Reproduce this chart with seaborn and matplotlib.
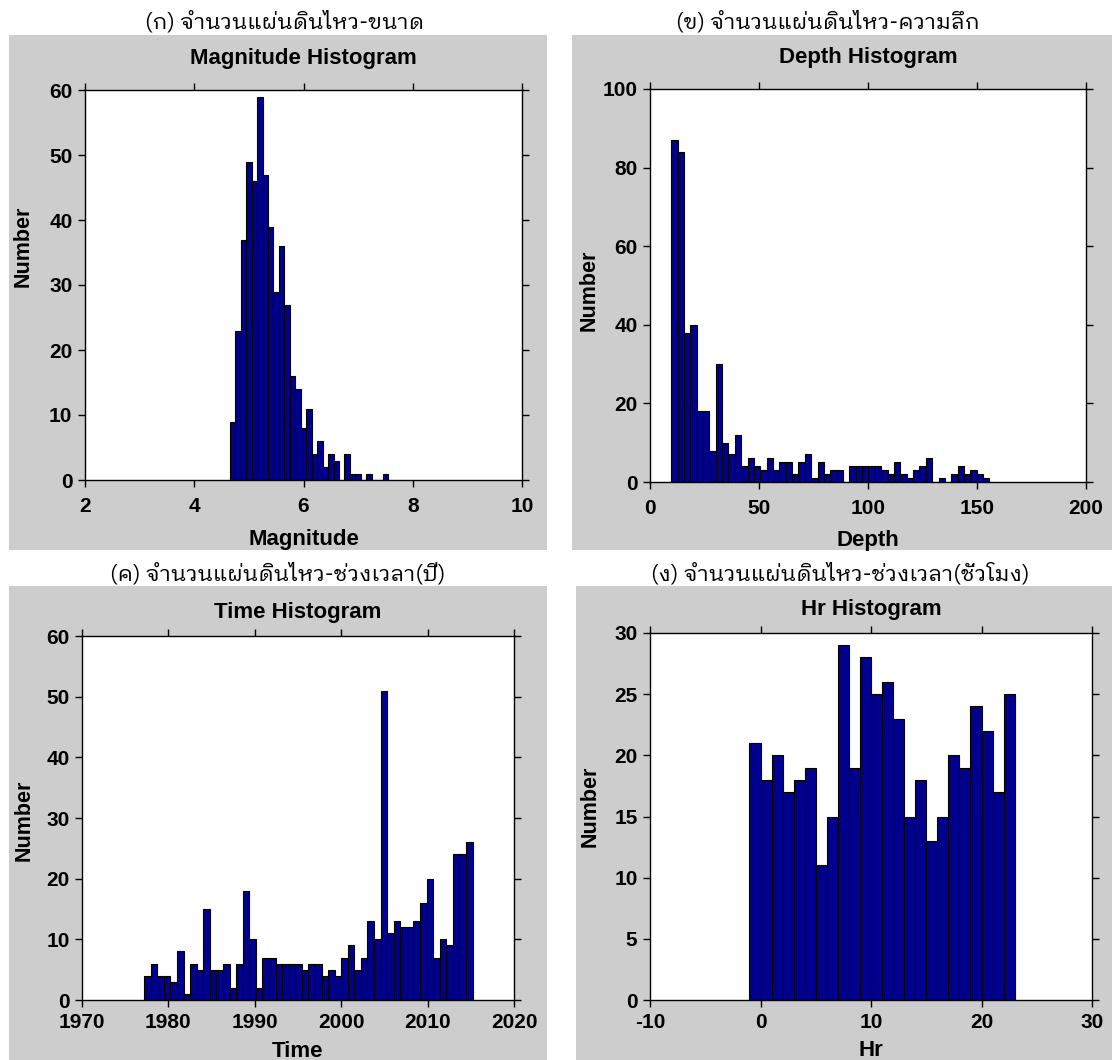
import numpy as np
import pandas as pd
import matplotlib
matplotlib.use("Agg")
import matplotlib.pyplot as plt
import seaborn as sns
from matplotlib import font_manager as fm
from matplotlib.patches import Rectangle
import logging
logging.getLogger("fontTools").setLevel(logging.ERROR)

# ---------------- data (bin counts) ----------------
mag_bin_start = 4.65
mag_bin_width = 0.1
mag_counts = [9, 23, 37, 49, 46, 59, 47, 39, 29, 36, 27, 16, 14, 8, 11,
              4, 6, 2, 4, 3, 0, 4, 1, 1, 0, 1, 0, 0, 1]

depth_bin_start = 9.7
depth_bin_width = 2.92
depth_counts = [87, 84, 38, 40, 18, 18, 8, 30, 10, 7, 12, 4, 6, 4, 3,
                6, 3, 5, 5, 2, 5, 7, 1, 5, 2, 3, 3, 0, 4, 4,
                4, 4, 4, 3, 2, 5, 2, 1, 3, 4, 6, 0, 1, 0, 2,
                4, 2, 3, 2, 1]

time_bin_start = 1977.2
time_bin_width = 0.76
time_counts = [4, 6, 4, 4, 3, 8, 1, 6, 5, 15, 5, 5, 6, 2, 6,
               18, 10, 2, 7, 7, 6, 6, 6, 6, 5, 6, 6, 4, 5, 4,
               7, 9, 5, 7, 13, 10, 51, 11, 13, 12, 12, 13, 16, 20, 7,
               10, 9, 24, 24, 26]

hr_bin_start = -1
hr_bin_width = 1
hr_counts = [21, 18, 20, 17, 18, 19, 11, 15, 29, 19, 28, 25, 26, 23, 15,
             18, 13, 15, 20, 19, 24, 22, 17, 25]

thai_titles = ["(ก) จำนวนแผ่นดินไหว-ขนาด",
               "(ข) จำนวนแผ่นดินไหว-ความลึก",
               "(ค) จำนวนแผ่นดินไหว-ช่วงเวลา(ปี)",
               "(ง) จำนวนแผ่นดินไหว-ช่วงเวลา(ชั่วโมง)"]
panel_titles = ["Magnitude Histogram", "Depth Histogram",
                "Time Histogram", "Hr Histogram"]
x_labels = ["Magnitude", "Depth", "Time", "Hr"]
y_label = "Number"
x_limits = [(2, 10), (0, 200), (1970, 2020), (-10, 30)]
x_tick_values = [[2, 4, 6, 8, 10], [0, 50, 100, 150, 200],
                 [1970, 1980, 1990, 2000, 2010, 2020], [-10, 0, 10, 20, 30]]
y_limits = [(0, 60), (0, 100), (0, 60), (0, 30)]
y_tick_values = [[0, 10, 20, 30, 40, 50, 60], [0, 20, 40, 60, 80, 100],
                 [0, 10, 20, 30, 40, 50, 60], [0, 5, 10, 15, 20, 25, 30]]

# ---------------- style ----------------
sns.set_style("ticks")
plt.rcParams["font.family"] = ["Liberation Sans", "DejaVu Sans"]
plt.rcParams["font.weight"] = "bold"


def find_thai_font():
    try:
        from fontTools.ttLib import TTFont
    except Exception:
        return None
    need = "จำนวนแผ่นดินไหวขชั่ลึกปีโมง"
    best = None
    seen = set()
    for f in fm.fontManager.ttflist:
        path = f.fname
        if path in seen:
            continue
        seen.add(path)
        try:
            tt = TTFont(path, fontNumber=0, lazy=True)
            cmap = tt.getBestCmap() or {}
        except Exception:
            continue
        if all(ord(c) in cmap for c in need):
            score = 0
            name = (f.name or "").lower()
            if "thai" in name:
                score += 3
            if "looped" in name:
                score += 4
            if " ui" in name:
                score -= 1
            w = f.weight
            if w in ("normal", "regular", 400, "book"):
                score += 2
            if "italic" in (f.style or "").lower():
                score -= 5
            if best is None or score > best[0]:
                best = (score, path)
    return best[1] if best else None


thai_path = find_thai_font()
if thai_path:
    thai_fp = fm.FontProperties(fname=thai_path, size=16)
else:
    thai_fp = fm.FontProperties(family=["DejaVu Sans"], size=16)

W, H = 1116, 1060
fig = plt.figure(figsize=(W / 100, H / 100), dpi=100, facecolor="white")

BAR = "#00008C"
GRAY = "#CDCDCD"

# gray panel backgrounds (pixels: left, top, right, bottom)
panels = [(9, 35, 547, 550), (572, 35, 1112, 550),
          (9, 586, 547, 1060), (576, 586, 1112, 1060)]
for (l, t, r, b) in panels:
    fig.add_artist(Rectangle((l / W, 1 - b / H), (r - l) / W, (b - t) / H,
                             transform=fig.transFigure, facecolor=GRAY,
                             edgecolor="none", zorder=-10))

# axes boxes (pixels: left, top, right, bottom)
boxes = [(85, 90, 522, 480), (650, 89, 1086, 482),
         (82, 636, 514, 1000), (650, 633, 1092, 1000)]
title_pads = [19, 19, 13, 13]
xtick_pads = [7, 7, 4.5, 4.5]
thai_pos = [(285, 28), (828, 28), (278, 580), (840, 580)]
xlabel_base = [545, 546, 1057, 1056]
ylabel_pos = [(23, 246), (589, 290), (24, 820), (590, 806)]

data = [(mag_bin_start, mag_bin_width, mag_counts),
        (depth_bin_start, depth_bin_width, depth_counts),
        (time_bin_start, time_bin_width, time_counts),
        (hr_bin_start, hr_bin_width, hr_counts)]

for i, (l, t, r, b) in enumerate(boxes):
    ax = fig.add_axes([l / W, 1 - b / H, (r - l) / W, (b - t) / H])
    start, width, counts = data[i]
    n = len(counts)
    centers = start + width * (np.arange(n) + 0.5)
    df = pd.DataFrame({"value": centers, "count": counts})
    sns.histplot(data=df, x="value", weights="count", binwidth=width,
                 binrange=(start, start + width * n), ax=ax,
                 color=BAR, edgecolor="black", linewidth=0.8, alpha=1.0)
    ax.set_facecolor("white")
    ax.set_xlim(*x_limits[i])
    ax.set_ylim(*y_limits[i])
    ax.set_xticks(x_tick_values[i])
    ax.set_yticks(y_tick_values[i])
    ax.set_xticklabels([str(v) for v in x_tick_values[i]])
    ax.set_yticklabels([str(v) for v in y_tick_values[i]])
    ax.set_xlabel("")
    ax.set_ylabel("")
    for s in ax.spines.values():
        s.set_visible(True)
        s.set_color("black")
        s.set_linewidth(1.0)
    ax.tick_params(axis="both", which="both", direction="out", length=5,
                   width=1, color="black", top=True, right=True,
                   labelsize=15, labelcolor="black")
    ax.tick_params(axis="x", pad=xtick_pads[i])
    ax.tick_params(axis="y", pad=4)
    for lab in ax.get_xticklabels() + ax.get_yticklabels():
        lab.set_fontweight("bold")
    ax.set_title(panel_titles[i], fontsize=16, fontweight="bold",
                 pad=title_pads[i], color="black")

    cx = (l + r) / 2
    fig.text(cx / W, 1 - xlabel_base[i] / H, x_labels[i], ha="center",
             va="baseline", fontsize=16, fontweight="bold", color="black")
    yx, yy = ylabel_pos[i]
    fig.text(yx / W, 1 - yy / H, y_label, ha="center", va="center",
             rotation=90, fontsize=15.5, fontweight="bold", color="black")
    tx, ty = thai_pos[i]
    fig.text(tx / W, 1 - ty / H, thai_titles[i], ha="center", va="baseline",
             fontproperties=thai_fp, color="black")

fig.savefig("out.png", dpi=100, facecolor="white")
